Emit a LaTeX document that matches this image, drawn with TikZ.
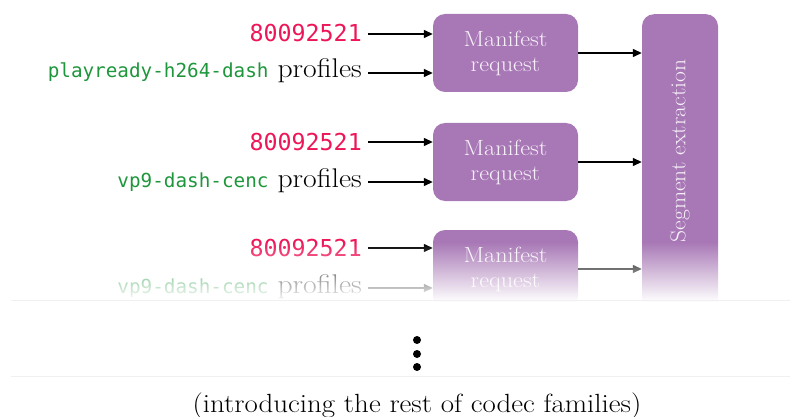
\documentclass[tikz,border=0pt]{standalone}
\usepackage{fontspec}
\newfontfamily\codefont{DejaVu Sans Mono}
\newfontfamily\widefont[FakeStretch=1.1]{Latin Modern Roman}
\usetikzlibrary{arrows.meta,fadings}
\definecolor{boxpurple}{RGB}{168,120,182}
\definecolor{numred}{RGB}{238,22,88}
\definecolor{codegreen}{RGB}{30,150,60}
\definecolor{boxtext}{RGB}{246,240,248}
\tikzfading[name=fadedown, top color=transparent!100, bottom color=transparent!0]
\begin{document}
\begin{tikzpicture}[x=1pt,y=-1pt,
  mbox/.style={fill=boxpurple, rounded corners=12pt, minimum width=145pt, minimum height=78pt, text=boxtext, font=\widefont\fontsize{22}{25}\selectfont, align=center, inner sep=0pt},
  tallbox/.style={fill=boxpurple, rounded corners=12pt, minimum width=76pt, minimum height=300pt, anchor=north, inner sep=0pt},
  talltext/.style={rotate=90, text=boxtext, font=\widefont\fontsize{21.5}{25}\selectfont},
  numlabel/.style={anchor=east, inner xsep=6pt, inner ysep=0pt, text height=16pt, text depth=0pt, text=numred, font=\codefont\fontsize{23.3}{24}\selectfont},
  proflabel/.style={anchor=east, inner xsep=6pt, inner ysep=0pt, text height=10pt, text depth=0pt, font=\widefont\fontsize{27}{28}\selectfont},
  arr/.style={line width=1.3pt, -{Triangle[length=9pt,width=8pt]}},
  faint/.style={draw=black!6, line width=1pt},
  dotmark/.style={fill=black},
]
\useasboundingbox (0,0) rectangle (790,417);
\newcommand\greencode[1]{{\codefont\fontsize{19.3}{20}\selectfont\color{codegreen}#1}}

% boxes
\node[mbox] (m1) at (505.5,53) {Manifest\\request};
\node[mbox] (m2) at (505.5,162) {Manifest\\request};
\node[mbox] (m3) at (505.5,269) {Manifest\\request};
\node[tallbox] (s) at (680,14) {};
\node[talltext] (st) at (680,151) {Segment extraction};

% labels
\node[numlabel] (n1) at (368,34) {80092521};
\node[proflabel] (p1) at (368,73) {\greencode{playready-h264-dash} profiles};
\node[numlabel] (n2) at (368,142) {80092521};
\node[proflabel] (p2) at (368,182) {\greencode{vp9-dash-cenc} profiles};
\node[numlabel] (n3) at (368,248) {80092521};
\node[proflabel] (p3) at (368,288) {\greencode{vp9-dash-cenc} profiles};

% arrows
\draw[arr] (n1.east) -- (n1.east -| m1.west);
\draw[arr] (p1.east) -- (p1.east -| m1.west);
\draw[arr] (n2.east) -- (n2.east -| m2.west);
\draw[arr] (p2.east) -- (p2.east -| m2.west);
\draw[arr] (n3.east) -- (n3.east -| m3.west);
\draw[arr] (p3.east) -- (p3.east -| m3.west);
\draw[arr] (m1.east) -- (m1.east -| s.west);
\draw[arr] (m2.east) -- (m2.east -| s.west);
\draw[arr] (m3.east) -- (m3.east -| s.west);

% fade out
\fill[white, path fading=fadedown] (0,242) rectangle (790,302);
\fill[white] (0,302) rectangle (790,330);
\draw[faint] (11,300) -- (790,300);
\draw[faint] (11,376) -- (790,376);

% vertical dots
\fill[dotmark] (417,340) circle[radius=4pt];
\fill[dotmark] (417,354) circle[radius=4pt];
\fill[dotmark] (417,367) circle[radius=4pt];

\node[font=\widefont\fontsize{26.3}{28}\selectfont, anchor=base, inner sep=0pt] (cap) at (417,412) {(introducing the rest of codec families)};
\end{tikzpicture}
\end{document}
